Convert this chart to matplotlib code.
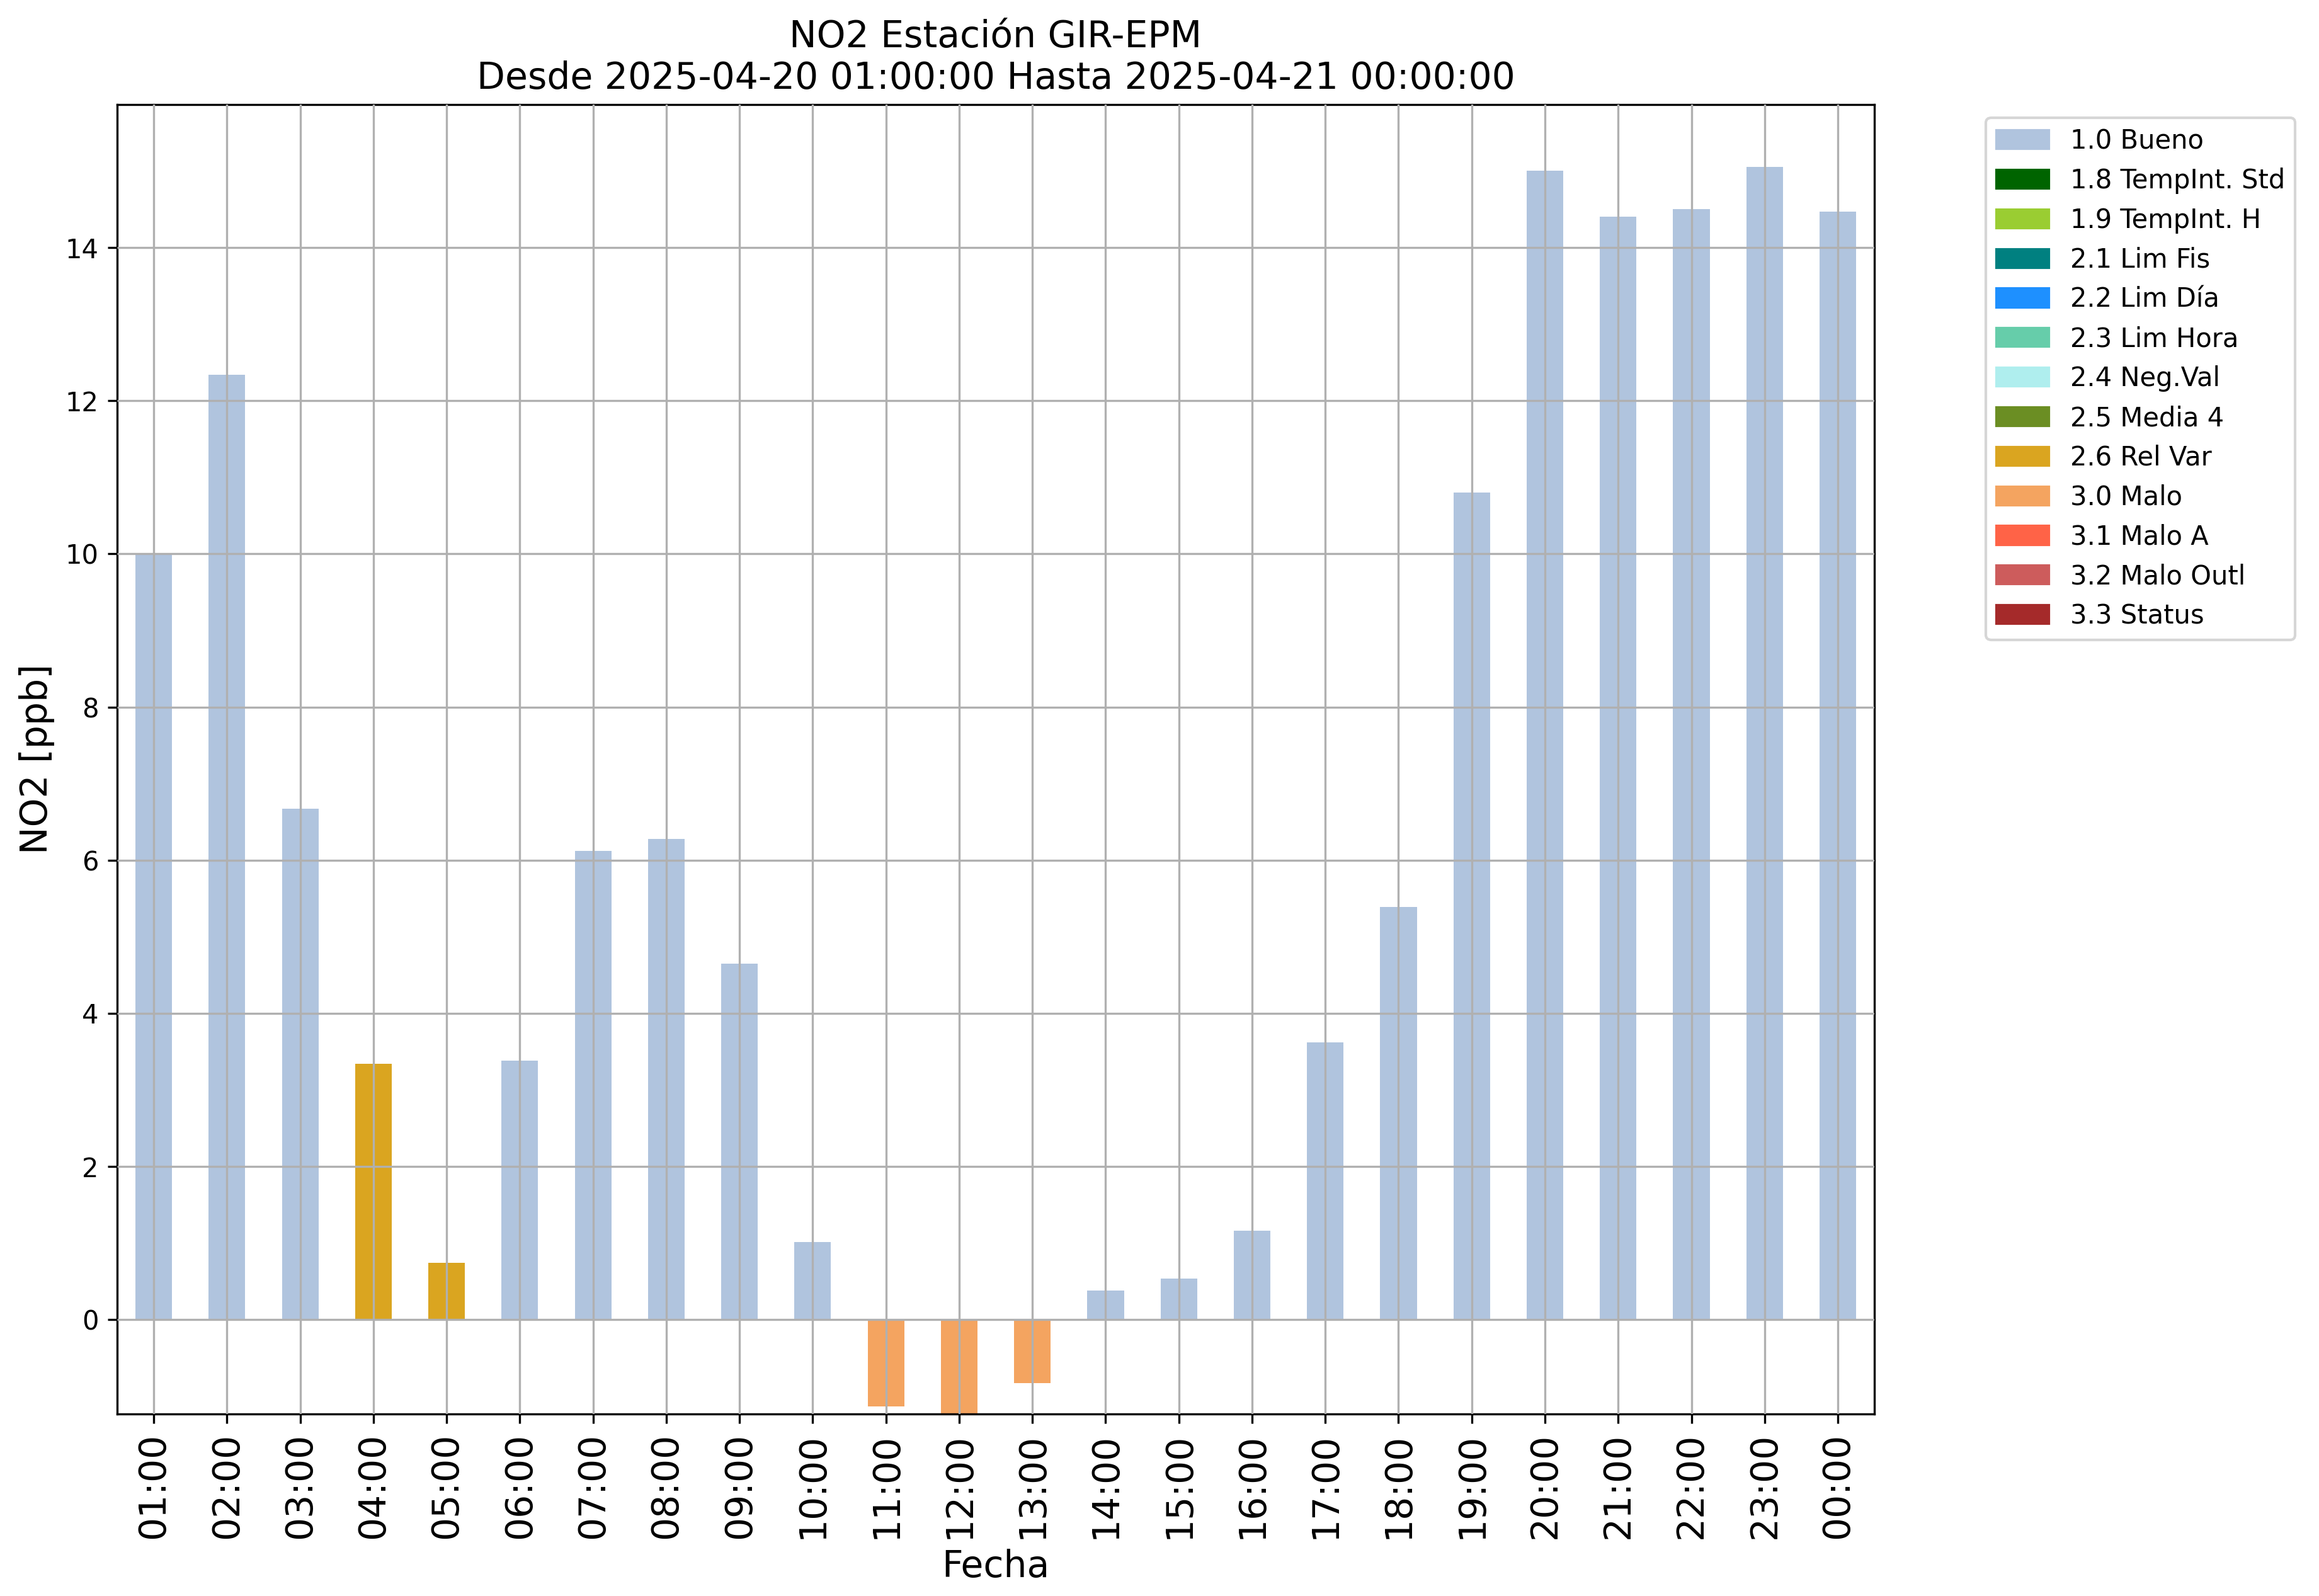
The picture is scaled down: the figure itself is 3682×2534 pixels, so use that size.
import matplotlib
matplotlib.use("Agg")
import matplotlib.pyplot as plt
import matplotlib.patches as mpatches

hours = ["01:00", "02:00", "03:00", "04:00", "05:00", "06:00", "07:00", "08:00",
         "09:00", "10:00", "11:00", "12:00", "13:00", "14:00", "15:00", "16:00",
         "17:00", "18:00", "19:00", "20:00", "21:00", "22:00", "23:00", "00:00"]
values = [10.0, 12.34, 6.67, 3.34, 0.74, 3.38, 6.12, 6.28, 4.65, 1.01,
          -1.13, -1.30, -0.83, 0.38, 0.54, 1.16, 3.62, 5.39, 10.80, 15.00,
          14.40, 14.50, 15.05, 14.47]
flags = ["1.0 Bueno", "1.0 Bueno", "1.0 Bueno", "2.6 Rel Var", "2.6 Rel Var",
         "1.0 Bueno", "1.0 Bueno", "1.0 Bueno", "1.0 Bueno", "1.0 Bueno",
         "3.0 Malo", "3.0 Malo", "3.0 Malo", "1.0 Bueno", "1.0 Bueno",
         "1.0 Bueno", "1.0 Bueno", "1.0 Bueno", "1.0 Bueno", "1.0 Bueno",
         "1.0 Bueno", "1.0 Bueno", "1.0 Bueno", "1.0 Bueno"]

legend_labels = ["1.0 Bueno", "1.8 TempInt. Std", "1.9 TempInt. H", "2.1 Lim Fis",
                 "2.2 Lim Día", "2.3 Lim Hora", "2.4 Neg.Val", "2.5 Media 4",
                 "2.6 Rel Var", "3.0 Malo", "3.1 Malo A", "3.2 Malo Outl", "3.3 Status"]
legend_colors = ["lightsteelblue", "darkgreen", "yellowgreen", "teal", "dodgerblue",
                 "mediumaquamarine", "paleturquoise", "olivedrab", "goldenrod",
                 "sandybrown", "tomato", "indianred", "brown"]
color_map = dict(zip(legend_labels, legend_colors))

W, H, DPI = 3682, 2534, 300
fig = plt.figure(figsize=(W / DPI, H / DPI), dpi=DPI)
ax = fig.add_axes([0.0505, 0.1140, 0.7578, 0.8206])

x = list(range(len(hours)))
ax.bar(x, values, width=0.5, color=[color_map[f] for f in flags], zorder=1)

ax.set_xlim(-0.5, len(hours) - 0.5)
ax.set_ylim(-1.233, 15.87)
ax.set_xticks(x)
ax.set_xticklabels(hours, rotation=90, fontsize=14)
ax.tick_params(axis="y", labelsize=10)
ax.set_axisbelow(False)
ax.grid(True, color="#b0b0b0", linewidth=0.8)

ax.set_xlabel("Fecha", fontsize=14)
ax.set_ylabel("NO2 [ppb]", fontsize=14)
ax.set_title("NO2 Estación GIR-EPM\nDesde 2025-04-20 01:00:00 Hasta 2025-04-21 00:00:00",
             fontsize=14)

handles = [mpatches.Patch(color=c, label=l) for l, c in zip(legend_labels, legend_colors)]
ax.legend(handles=handles, bbox_to_anchor=(1.056, 1), loc="upper left", fontsize=10)

fig.savefig("out.png", dpi=DPI)
